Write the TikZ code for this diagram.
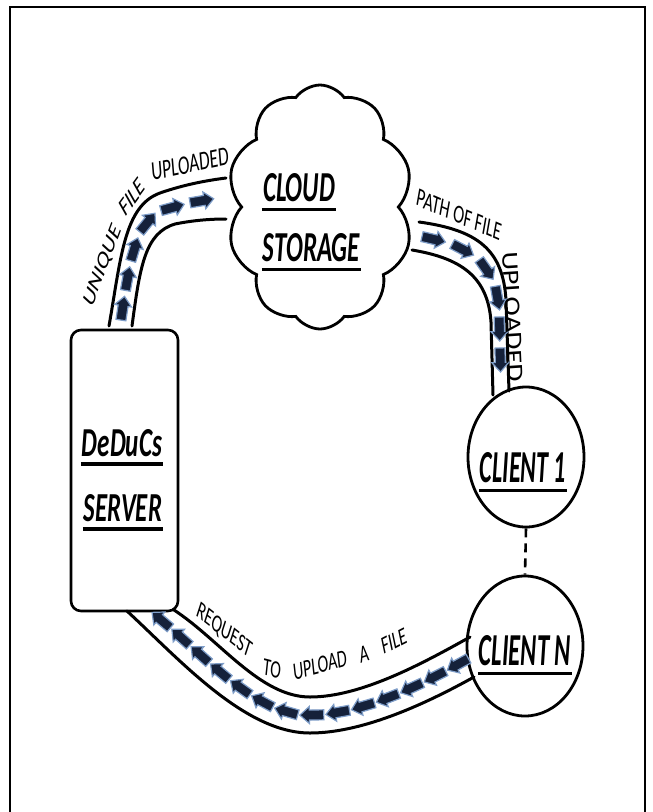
\documentclass[tikz,border=0pt]{standalone}
\usepackage{fontspec}
\setmainfont{Carlito}
\usetikzlibrary{shapes.symbols,shapes.geometric,decorations.markings}
\definecolor{navy}{HTML}{15213A}
\definecolor{glow}{HTML}{7E9DC8}
\newcommand\flowarrow{\filldraw[fill=navy, draw=glow, line width=1.2pt] (-12,-5) -- (2.5,-5) -- (2.5,-8.5) -- (12,0) -- (2.5,8.5) -- (2.5,5) -- (-12,5) -- cycle;}
\newcommand\bl[3]{\resizebox{#1pt}{#2pt}{\bfseries\itshape #3}}
\newcommand\pl[4]{\scalebox{#1}[1]{\rotatebox{#2}{\fontsize{#3}{#3}\selectfont #4}}}
\tikzset{
  box/.style={draw, line width=2.6pt, rounded corners=10pt},
  client/.style={ellipse, draw, line width=2.8pt, minimum width=116pt, minimum height=140pt, inner sep=0pt},
  pipeline/.style={draw, line width=3pt, line cap=round},
  ul/.style={line width=3.5pt},
  txt/.style={inner sep=0pt},
  frame/.style={line width=2.5pt},
}
\begin{document}
\begin{tikzpicture}[x=1pt,y=-1pt]
\useasboundingbox (0,0) rectangle (653,812);
\draw[frame] (10,813) -- (10,7) -- (645,7) -- (645,813);

% nodes
\node[box, minimum width=107pt, minimum height=281pt] (server) at (124.5,470.5) {};
\node[cloud, draw, line width=2.8pt, cloud puffs=10, cloud puff arc=110, minimum width=186pt, minimum height=244pt, inner sep=0pt] (cloud) at (320,207) {};
\node[client] (c1) at (526,457) {};
\node[client] (cN) at (525,646) {};
\draw[line width=2.6pt, dash pattern=on 9pt off 6pt] (c1.south) -- (cN.north);

% bold labels
\node[txt] (tCloud) at (299,188) {\bl{72}{28}{CLOUD}};
\node[txt] (tStor) at (311.5,248) {\bl{97}{28}{STORAGE}};
\node[txt] (tDed) at (122,443) {\bl{80}{27}{DeDuCs}};
\node[txt] (tServ) at (123,508) {\bl{78}{27}{SERVER}};
\node[txt] (tC1) at (523,468) {\bl{86}{30}{CLIENT 1}};
\node[txt] (tCN) at (525,651) {\bl{92}{30}{CLIENT N}};
\foreach \n in {tCloud,tStor,tDed,tServ,tC1,tCN}
  \draw[ul] ([xshift=-1pt,yshift=-7pt]\n.south west) -- ([xshift=1pt,yshift=-7pt]\n.south east);

% pipes
\coordinate (tlo) at (109,326); \coordinate (tli) at (132,326);
\draw[pipeline] (tlo) .. controls (121,258) and (124,206) .. (160,193) .. controls (180,186) and (202,181) .. (226,178);
\draw[pipeline] (tli) .. controls (140,266) and (145,233) .. (175,224) .. controls (195,220) and (212,219) .. (226,219);
\path[decorate, decoration={markings, mark=between positions 18pt and -12pt step 30pt with {\flowarrow}}]
  (120,326) .. controls (130,262) and (134,220) .. (167,209) .. controls (188,203) and (207,199) .. (226,198);

\coordinate (rto) at (419,222); \coordinate (rti) at (412,250);
\draw[pipeline] (rto) .. controls (478,230) and (503,250) .. (506,300) -- (509,391);
\draw[pipeline] (rti) .. controls (460,258) and (488,276) .. (491,322) -- (493,395);
\path[decorate, decoration={markings, mark=between positions 18pt and -10pt step 31pt with {\flowarrow}}]
  (416,236) .. controls (469,244) and (496,263) .. (499,311) -- (501,390);

\coordinate (blo) at (474,677); \coordinate (bli) at (470,637);
\draw[pipeline] (blo) .. controls (420,707) and (360,733) .. (310,733) .. controls (245,733) and (180,660) .. (127,611);
\draw[pipeline] (bli) .. controls (420,665) and (360,697) .. (310,697) .. controls (260,697) and (220,640) .. (174,610);
\path[decorate, decoration={markings, mark=between positions 15pt and -12pt step 26pt with {\flowarrow}}]
  (471,657) .. controls (420,686) and (360,715) .. (310,715) .. controls (252,715) and (200,650) .. (150,611);

% pipe labels
\node[txt] (l1) at (103,266) {\pl{0.64}{59.6}{27}{UNIQUE}};
\node[txt] (l2) at (132,197) {\pl{0.64}{41.5}{27}{FILE}};
\node[txt] (l3) at (190,164) {\pl{0.64}{7.5}{27}{UPLOADED}};
\node[txt] (l4) at (459,215) {\pl{0.64}{-15.4}{26}{PATH OF FILE}};
\node[txt] (l5) at (513,317) {\pl{0.8}{-87}{29}{UPLOADED}};
\node[txt] (l6) at (224,631) {\pl{0.64}{-26.7}{25}{REQUEST}};
\node[txt] (l7) at (272,669) {\pl{0.64}{-9.4}{25}{TO}};
\node[txt] (l8) at (320,665) {\pl{0.64}{9.7}{25}{UPLOAD}};
\node[txt] (l9) at (364,654) {\pl{0.64}{12.7}{25}{A}};
\node[txt] (l10) at (394,641) {\pl{0.64}{18.3}{25}{FILE}};
\end{tikzpicture}
\end{document}
